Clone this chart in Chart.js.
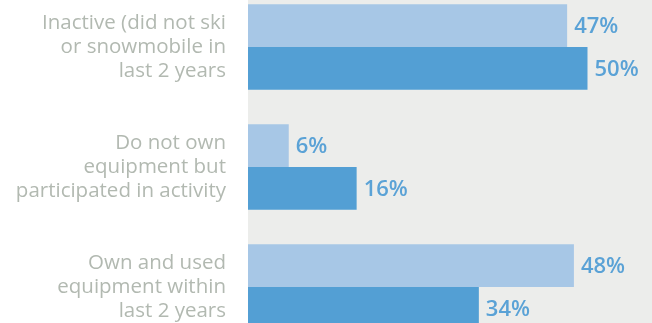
<!DOCTYPE html>
<html>
<head>
<meta charset="utf-8">
<script src="https://cdn.jsdelivr.net/npm/chart.js@4"></script>
<style>
  html, body { margin: 0; padding: 0; background: #fff; overflow: hidden; }
  #wrap { position: absolute; left: 0; top: -13px; width: 652px; height: 360px; }
</style>
</head>
<body>
<div id="wrap"><canvas id="chart"></canvas></div>
<script>
const categories = [
  ['Inactive (did not ski', 'or snowmobile in', 'last 2 years'],
  ['Do not own', 'equipment but', 'participated in activity'],
  ['Own and used', 'equipment within', 'last 2 years']
];
const seriesA = [47, 6, 48];
const seriesB = [50, 16, 34];
const xMax = 59.5;

const lightBlue = '#a7c7e6';
const darkBlue = '#539fd4';
const labelBlue = '#5aa2d6';

// grey panel behind the bars
const panelBg = {
  id: 'panelBg',
  beforeDraw(chart) {
    const { ctx, chartArea } = chart;
    ctx.save();
    ctx.fillStyle = '#ecedeb';
    ctx.fillRect(chartArea.left, 0, chart.width - chartArea.left, chart.height);
    ctx.restore();
  }
};

// percentage text at the end of each bar
const valueLabels = {
  id: 'valueLabels',
  afterDatasetsDraw(chart) {
    const { ctx } = chart;
    ctx.save();
    ctx.font = '600 22px "Open Sans", sans-serif';
    ctx.fillStyle = labelBlue;
    ctx.textBaseline = 'middle';
    ctx.textAlign = 'left';
    chart.data.datasets.forEach((ds, i) => {
      chart.getDatasetMeta(i).data.forEach((bar, j) => {
        ctx.fillText(ds.data[j] + '%', bar.x + 7, bar.y + 1);
      });
    });
    ctx.restore();
  }
};

new Chart(document.getElementById('chart'), {
  type: 'bar',
  data: {
    labels: categories,
    datasets: [
      { data: seriesA, backgroundColor: lightBlue },
      { data: seriesB, backgroundColor: darkBlue }
    ]
  },
  options: {
    indexAxis: 'y',
    responsive: true,
    maintainAspectRatio: false,
    animation: false,
    layout: { padding: 0 },
    datasets: { bar: { categoryPercentage: 0.711, barPercentage: 1 } },
    plugins: { legend: { display: false }, tooltip: { enabled: false } },
    scales: {
      x: { min: 0, max: xMax, display: false },
      y: {
        grid: { display: false, drawTicks: false },
        border: { display: false },
        ticks: {
          color: '#b2b9b1',
          padding: 22,
          font: { family: '"Open Sans", sans-serif', size: 20.5, lineHeight: 1.16 }
        },
        afterFit(scale) {
          scale.width = 248;
          scale.paddingTop = 0;
          scale.paddingBottom = 0;
        }
      }
    }
  },
  plugins: [panelBg, valueLabels]
});
</script>
</body>
</html>
